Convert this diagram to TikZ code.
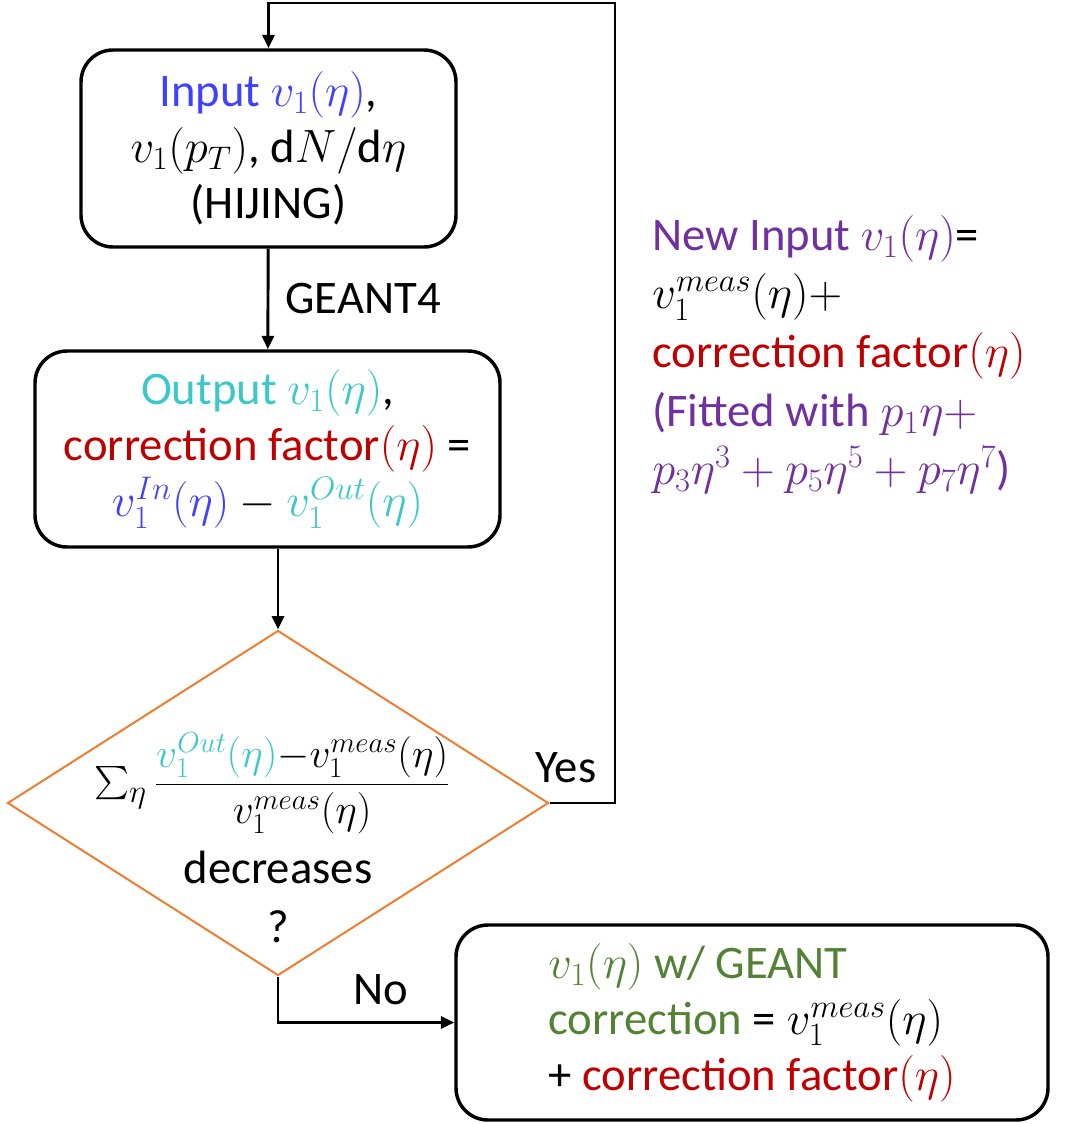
\RequirePackage{fix-cm}
\documentclass[tikz,border=0pt]{standalone}
\usepackage{amsmath}
\usepackage{fontspec}
\setmainfont{Carlito}
\usetikzlibrary{shapes.geometric,arrows.meta}
\definecolor{inblue}{HTML}{4040FF}
\definecolor{outcyan}{HTML}{3CC8C8}
\definecolor{corrred}{HTML}{C00000}
\definecolor{newpurple}{HTML}{7030A0}
\definecolor{resgreen}{HTML}{548235}
\definecolor{decorange}{HTML}{ED7D31}
\begin{document}
\begin{tikzpicture}[x=0.75pt,y=-0.75pt,
  font=\fontsize{35}{42}\selectfont,
  procbox/.style={draw, line width=2.6pt, rounded corners=24pt, inner sep=0pt},
  decision/.style={diamond, draw=decorange, line width=1.5pt, inner sep=0pt},
  flow/.style={line width=2.2pt, -{Triangle[length=10pt,width=9pt]}},
  label/.style={inner sep=0pt}]
\useasboundingbox (0,0) rectangle (1076,1124);

% simulation input
\node[procbox, align=center, minimum width=281.25pt, minimum height=147.75pt] (in) at (268.5,148.5)
  {{\color{inblue}Input $v_1(\eta)$},\\ $v_1(p_T)$, $\mathrm{d}N/\mathrm{d}\eta$\\(HIJING)};

% simulation output and correction factor
\node[procbox, align=center, minimum width=348.75pt, minimum height=147pt] (out) at (267.5,449)
  {{\color{outcyan}Output $v_1(\eta)$},\\{\color{corrred}correction factor$(\eta)$} =\\
   ${\color{inblue}v_1^{In}(\eta)} - {\color{outcyan}v_1^{Out}(\eta)}$};

% convergence test
\node[decision, minimum width=405.75pt, minimum height=258.75pt] (dia) at (278,803) {};
\node[label] (test) at (272,783)
  {$\textstyle\sum_\eta$\,{\fontsize{31}{36}\selectfont
   $\displaystyle\frac{{\color{outcyan}v_1^{Out}(\eta)}{-}v_1^{meas}(\eta)}{v_1^{meas}(\eta)}$}};
\node[label] (dec) at (278,867) {decreases};
\node[label] (qm) at (278,927) {?};

% final result
\node[procbox, align=left, minimum width=444pt, minimum height=146.25pt] (res) at (752,1022.5)
  {{\color{resgreen}$v_1(\eta)$ w/ GEANT}\\{\color{resgreen}correction} = $v_1^{meas}(\eta)$\\
   + {\color{corrred}correction factor$(\eta)$}};

% update rule for the next iteration
\node[label, anchor=north west, align=left, text=newpurple,
      font=\fontsize{35}{44}\selectfont] (upd) at (652,215)
  {New Input $v_1(\eta)${\color{black}=}\\
   {\color{black}$v_1^{meas}(\eta)+$}\\
   {\color{corrred}correction factor$(\eta)$}\\
   (Fitted with $p_1\eta+$\\
   $p_3\eta^3+p_5\eta^5+p_7\eta^7$)};

% connectors
\draw[flow] (in) -- node[label, right=12pt] (g4) {GEANT4} (out);
\draw[flow] (dia.north |- out.south) -- (dia.north);
\coordinate (loop) at (615,3);
\draw[flow] (dia.east) -| (loop) -| (in.north);
\node[label] (yes) at (566,768) {Yes};
\draw[flow] (dia.south) |- (res.west);
\node[label] (no) at (381,990) {No};
\end{tikzpicture}
\end{document}
